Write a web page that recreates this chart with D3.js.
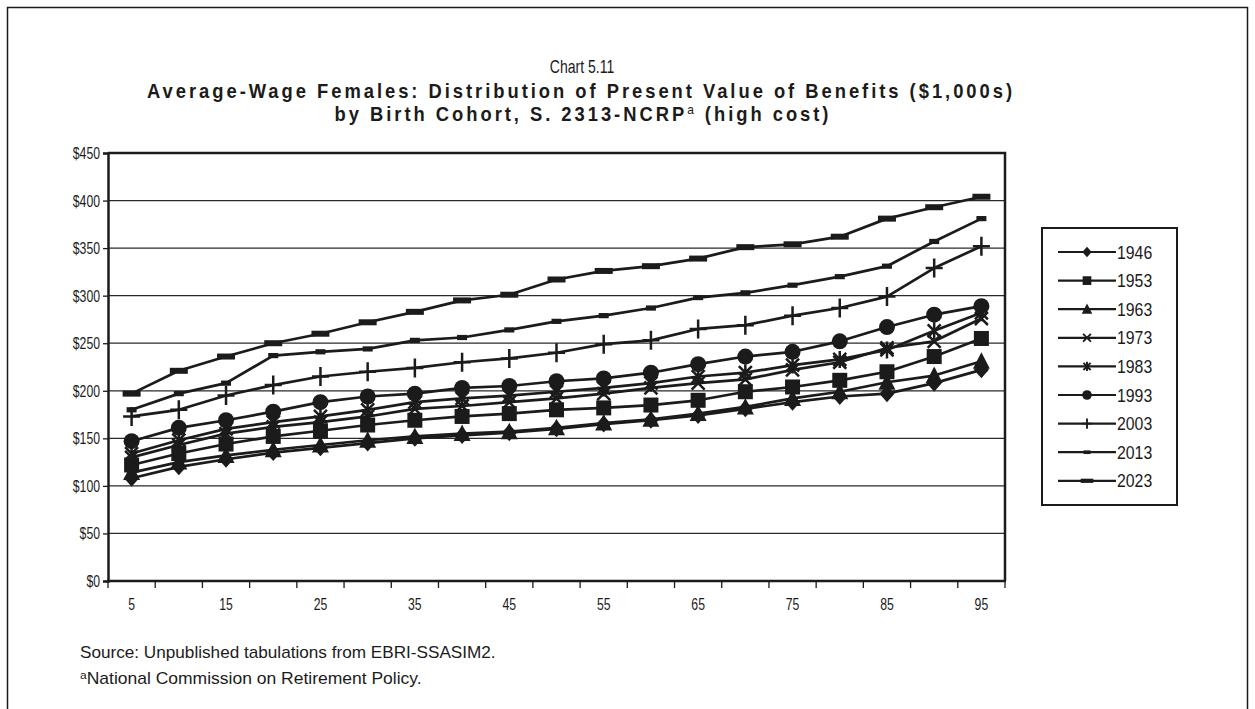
<!DOCTYPE html>
<html>
<head>
<meta charset="utf-8">
<script src="https://cdn.jsdelivr.net/npm/d3@7"></script>
<style>
  html, body { margin: 0; padding: 0; background: #fff; }
  svg { display: block; }
  text { font-family: "Liberation Sans", Arial, sans-serif; }
</style>
</head>
<body>
<svg id="chart" width="1255" height="709"></svg>
<script>
// Age of beneficiary (x categories)
const ages = [5, 10, 15, 20, 25, 30, 35, 40, 45, 50, 55, 60, 65, 70, 75, 80, 85, 90, 95];
const ageLabels = [5, 15, 25, 35, 45, 55, 65, 75, 85, 95];
const yTicks = [0, 50, 100, 150, 200, 250, 300, 350, 400, 450];
const cohorts = ["1946", "1953", "1963", "1973", "1983", "1993", "2003", "2013", "2023"];

// Present value of benefits ($1,000s) by birth cohort
const v1946 = [108, 120, 128, 135, 140, 145, 150, 153, 156, 160, 165, 169, 174, 181, 188, 194, 197, 208, 222];
const v1953 = [122, 134, 144, 152, 158, 164, 169, 173, 176, 180, 182, 185, 190, 199, 204, 211, 220, 236, 255];
const v1963 = [114, 125, 132, 138, 143, 148, 152, 155, 157, 161, 166, 170, 176, 183, 192, 199, 209, 216, 231];
const v1973 = [130, 143, 155, 162, 167, 173, 181, 184, 188, 192, 197, 203, 208, 212, 222, 230, 245, 252, 276];
const v1983 = [134, 148, 160, 167, 173, 180, 188, 192, 195, 199, 203, 208, 215, 219, 227, 233, 243, 263, 282];
const v1993 = [147, 161, 169, 178, 188, 194, 197, 203, 205, 210, 213, 219, 228, 236, 241, 252, 267, 280, 289];
const v2003 = [173, 180, 195, 206, 215, 220, 224, 230, 234, 240, 249, 253, 265, 269, 279, 287, 299, 329, 352];
const v2013 = [180, 197, 208, 237, 241, 244, 253, 256, 264, 273, 279, 287, 298, 303, 311, 320, 331, 357, 381];
const v2023 = [197, 221, 236, 250, 260, 272, 283, 295, 301, 317, 326, 331, 339, 351, 354, 362, 381, 393, 404];

const seriesValues = [v1946, v1953, v1963, v1973, v1983, v1993, v2003, v2013, v2023];
const markerTypes = ["diamond", "square", "triangle", "x", "asterisk", "circle", "plus", "dashSmall", "dashLarge"];

const ink = "#1b1b1b";
const svg = d3.select("#chart");

// Horizontally condensed text: a group placed at (x, y), text squeezed by sx
function condText(parent, x, y, sx, size, anchor, str) {
  const g = parent.append("g").attr("transform", `translate(${x},${y}) scale(${sx},1)`);
  const t = g.append("text").attr("x", 0).attr("y", 0).attr("font-size", size)
    .attr("text-anchor", anchor || "start").attr("fill", ink);
  if (str !== undefined) t.text(str);
  return t;
}

// Outer page frame
svg.append("rect").attr("x", 7.5).attr("y", 7.5).attr("width", 1240).attr("height", 720)
  .attr("fill", "none").attr("stroke", ink).attr("stroke-width", 1.5);

// Titles
condText(svg, 582, 73, 0.78, 18, "middle", "Chart 5.11");
const titleSx = 0.92;
const t2 = condText(svg, 581, 98, titleSx, 20, "middle", "Average-Wage Females: Distribution of Present Value of Benefits ($1,000s)")
  .attr("font-weight", "bold");
const t3 = condText(svg, 583, 121, titleSx, 20, "middle").attr("font-weight", "bold");
t3.append("tspan").text("by Birth Cohort, S. 2313-NCRP");
t3.append("tspan").attr("font-size", 13).attr("font-weight", "normal").attr("dy", -7).text("a");
t3.append("tspan").attr("dy", 7).text(" (high cost)");
// letter spacing so the main title spans its full width; same spacing on both lines
{
  const natural = t2.node().getComputedTextLength();
  const n = t2.text().length;
  const ls = Math.max(0, (868 / titleSx - natural) / n);
  t2.attr("letter-spacing", ls);
  t3.attr("letter-spacing", ls);
}

// Scales
const x = d3.scaleBand().domain(ages).range([108, 1005]).padding(0);
const cx = d => x(d) + x.bandwidth() / 2;
const y = d3.scaleLinear().domain([0, 450]).range([581, 153]);

// Gridlines
svg.append("g").selectAll("line").data(yTicks.filter(t => t > 0 && t < 450)).join("line")
  .attr("x1", 108).attr("x2", 1005).attr("y1", d => y(d)).attr("y2", d => y(d))
  .attr("stroke", "#2a2a2a").attr("stroke-width", 1.3);

// Plot frame (top and right)
svg.append("path").attr("d", `M108,${y(450)}H1005V${y(0)}`)
  .attr("fill", "none").attr("stroke", ink).attr("stroke-width", 2.5);

// Marker drawing
function drawMarker(g, type, s) {
  const sw = 2.5 * Math.max(s, 0.75);
  switch (type) {
    case "diamond":
      g.append("path").attr("d", `M0,${-8.5 * s}L${7.5 * s},0L0,${8.5 * s}L${-7.5 * s},0Z`).attr("fill", ink); break;
    case "square":
      g.append("rect").attr("x", -7.5 * s).attr("y", -7.5 * s).attr("width", 15 * s).attr("height", 15 * s).attr("fill", ink); break;
    case "triangle":
      g.append("path").attr("d", `M0,${-9 * s}L${8.5 * s},${7.5 * s}L${-8.5 * s},${7.5 * s}Z`).attr("fill", ink); break;
    case "x":
      g.append("path").attr("d", `M${-6.5 * s},${-6.5 * s}L${6.5 * s},${6.5 * s}M${6.5 * s},${-6.5 * s}L${-6.5 * s},${6.5 * s}`)
        .attr("stroke", ink).attr("stroke-width", sw).attr("fill", "none"); break;
    case "asterisk":
      g.append("path").attr("d", `M${-6.5 * s},${-6.5 * s}L${6.5 * s},${6.5 * s}M${6.5 * s},${-6.5 * s}L${-6.5 * s},${6.5 * s}M0,${-8.5 * s}V${8.5 * s}`)
        .attr("stroke", ink).attr("stroke-width", sw).attr("fill", "none"); break;
    case "circle":
      g.append("circle").attr("r", 8 * s).attr("fill", ink); break;
    case "plus":
      g.append("path").attr("d", `M${-8.5 * s},0H${8.5 * s}M0,${-9.5 * s}V${9.5 * s}`)
        .attr("stroke", ink).attr("stroke-width", sw).attr("fill", "none"); break;
    case "dashSmall":
      g.append("rect").attr("x", -5 * s).attr("y", -2.6 * s).attr("width", 10 * s).attr("height", 5.2 * s).attr("fill", ink); break;
    case "dashLarge":
      g.append("rect").attr("x", -9 * s).attr("y", -3 * s).attr("width", 18 * s).attr("height", 6 * s).attr("fill", ink); break;
  }
}

// Series lines and markers
const line = d3.line().x((d, i) => cx(ages[i])).y(d => y(d));
const plot = svg.append("g");
seriesValues.forEach((vals, k) => {
  const sg = plot.append("g");
  sg.append("path").attr("d", line(vals)).attr("fill", "none")
    .attr("stroke", ink).attr("stroke-width", 2.7).attr("stroke-linejoin", "round");
  vals.forEach((v, i) => {
    const mg = sg.append("g").attr("transform", `translate(${cx(ages[i])},${y(v)})`);
    drawMarker(mg, markerTypes[k], 1);
  });
});

// Y axis
const labelSx = 0.72;
const labelSize = 17;
const yAxis = svg.append("g").attr("transform", "translate(108,0)")
  .call(d3.axisLeft(y).tickValues(yTicks).tickFormat(d => "$" + d).tickSize(5).tickPadding(3));
yAxis.select(".domain").attr("stroke", ink).attr("stroke-width", 2.5);
yAxis.selectAll(".tick line").attr("stroke", ink).attr("stroke-width", 1.3);
yAxis.selectAll(".tick text")
  .attr("font-size", labelSize).attr("fill", ink)
  .attr("x", function () { return +this.getAttribute("x") / labelSx; })
  .attr("transform", `scale(${labelSx},1)`);

// X axis: tick marks at category boundaries, labels at every other category
const bounds = ages.map(a => x(a)).concat([x(ages[ages.length - 1]) + x.bandwidth()]);
svg.append("g").selectAll("line").data(bounds).join("line")
  .attr("x1", d => d).attr("x2", d => d).attr("y1", y(0)).attr("y2", y(0) + 7)
  .attr("stroke", ink).attr("stroke-width", 1.3);
const xAxis = svg.append("g").attr("transform", `translate(0,${y(0)})`)
  .call(d3.axisBottom(x).tickValues(ageLabels).tickSize(0).tickPadding(17));
xAxis.select(".domain").remove();
xAxis.selectAll(".tick text").attr("font-size", labelSize).attr("fill", ink)
  .attr("transform", `scale(${labelSx},1)`);
svg.append("line").attr("x1", 107).attr("x2", 1006).attr("y1", y(0)).attr("y2", y(0))
  .attr("stroke", ink).attr("stroke-width", 2.5);

// Legend
const legend = svg.append("g");
legend.append("rect").attr("x", 1042).attr("y", 228).attr("width", 135).attr("height", 277)
  .attr("fill", "#fff").attr("stroke", ink).attr("stroke-width", 2);
const legendMarkerScale = [0.62, 0.58, 0.62, 0.6, 0.55, 0.6, 0.55, 0.7, 0.7];
cohorts.forEach((c, k) => {
  const ly = 252 + k * 28.6;
  legend.append("line").attr("x1", 1058).attr("x2", 1116).attr("y1", ly).attr("y2", ly)
    .attr("stroke", ink).attr("stroke-width", 2.2);
  drawMarker(legend.append("g").attr("transform", `translate(1087,${ly})`), markerTypes[k], legendMarkerScale[k]);
  condText(legend, 1117, ly + 6.5, 0.88, 18, "start", c);
});

// Notes
const src = condText(svg, 80, 658, 1, 16, "start", "Source: Unpublished tabulations from EBRI-SSASIM2.");
const note = condText(svg, 80, 684, 1, 16, "start");
note.append("tspan").attr("font-size", 11).attr("dy", -5).text("a");
note.append("tspan").attr("dy", 5).text("National Commission on Retirement Policy.");
// squeeze the note lines to their printed widths
[[src, 416], [note, 342]].forEach(([t, w]) => {
  const bw = t.node().getBBox().width;
  d3.select(t.node().parentNode).attr("transform", function () {
    return this.getAttribute("transform").replace(/scale\([^)]*\)/, `scale(${w / bw},1)`);
  });
});
</script>
</body>
</html>
